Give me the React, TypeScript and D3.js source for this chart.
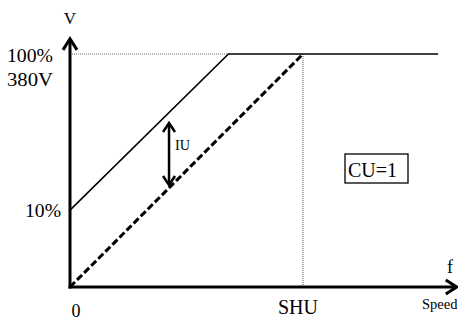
import React from "react";
import * as d3 from "d3";

// Relative frequency (SHU = 1) and voltage (% of 380V, drawn as in the diagram)
const solidF = [0, 0.68, 1.58];
const solidV = [33, 100, 100];
const dashedF = [0, 1];
const dashedV = [0, 100];
const topRefF = [0, 0.68];
const shuF = 1;
const iuF = 0.425;
const iuV = [70.4, 43.8];
const axisMaxF = 1.66;
const axisMaxV = 106.5;
const yTickLabels = [
  { v: 100, text: "100%", dy: 8 },
  { v: 100, text: "380V", dy: 32 },
  { v: 33, text: "10%", dy: 7 },
];

const W = 458;
const H = 320;
const font = "Liberation Serif";

export default function App() {
  const x = d3.scaleLinear().domain([0, 1]).range([70, 303]);
  const y = d3.scaleLinear().domain([0, 100]).range([287, 54]);
  const line = d3
    .line<[number, number]>()
    .x((d) => x(d[0]))
    .y((d) => y(d[1]));

  const solid = line(solidF.map((f, i) => [f, solidV[i]]) as [number, number][]);
  const dashed = line(dashedF.map((f, i) => [f, dashedV[i]]) as [number, number][]);
  const x0 = x(0);
  const y0 = y(0);
  const xEnd = x(axisMaxF);
  const yEnd = y(axisMaxV);
  const ax = x(iuF);
  const a1 = y(iuV[0]);
  const a2 = y(iuV[1]);
  const ts = { fontFamily: font };

  return (
    <svg
      width={W}
      height={H}
      style={{ position: "absolute", left: 0, top: 0, background: "#fff", fontFamily: font }}
    >
      {/* dotted reference lines */}
      <line
        x1={x(topRefF[0])}
        x2={x(topRefF[1])}
        y1={y(100)}
        y2={y(100)}
        stroke="#777"
        strokeWidth={1.2}
        strokeDasharray="1,1"
      />
      <line
        x1={x(shuF)}
        x2={x(shuF)}
        y1={y(100)}
        y2={y0}
        stroke="#777"
        strokeWidth={1.2}
        strokeDasharray="1,1"
      />
      {/* solid V/f curve */}
      <path d={solid!} fill="none" stroke="#000" strokeWidth={1.6} />
      {/* dashed V/f curve */}
      <path
        d={dashed!}
        fill="none"
        stroke="#000"
        strokeWidth={3}
        strokeDasharray="7,3"
      />
      {/* axes */}
      <line x1={x0} x2={x0} y1={y0 + 1.5} y2={yEnd + 1} stroke="#000" strokeWidth={3} />
      <line x1={x0 - 1.5} x2={xEnd - 1} y1={y0} y2={y0} stroke="#000" strokeWidth={3} />
      <path
        d={`M${x0 - 7},${yEnd + 11} L${x0},${yEnd} L${x0 + 7},${yEnd + 11}`}
        fill="none"
        stroke="#000"
        strokeWidth={3}
      />
      <path
        d={`M${xEnd - 11},${y0 - 7} L${xEnd},${y0} L${xEnd - 11},${y0 + 7}`}
        fill="none"
        stroke="#000"
        strokeWidth={3}
      />
      {/* IU double arrow */}
      <line x1={ax} x2={ax} y1={a1 + 1} y2={a2 - 1} stroke="#000" strokeWidth={2.5} />
      <path
        d={`M${ax - 6},${a1 + 9} L${ax},${a1} L${ax + 6},${a1 + 9}`}
        fill="none"
        stroke="#000"
        strokeWidth={2.5}
      />
      <path
        d={`M${ax - 6},${a2 - 9} L${ax},${a2} L${ax + 6},${a2 - 9}`}
        fill="none"
        stroke="#000"
        strokeWidth={2.5}
      />
      <text style={ts} x={ax + 6} y={a1 + 27} fontSize={15} textLength={15} lengthAdjust="spacingAndGlyphs">
        IU
      </text>
      {/* CU box */}
      <rect x={345} y={154} width={63} height={29} fill="none" stroke="#000" strokeWidth={1.3} />
      <text style={ts} x={348} y={177} fontSize={20} textLength={49} lengthAdjust="spacingAndGlyphs">
        CU=1
      </text>
      {/* labels */}
      <text style={ts} x={x0} y={24} fontSize={17} textAnchor="middle">
        V
      </text>
      {yTickLabels.map((t) => (
        <text
          style={ts}
          key={t.text}
          x={t.text === "10%" ? 25 : 7}
          y={y(t.v) + t.dy}
          fontSize={18}
          textLength={t.text === "10%" ? 36 : 46}
          lengthAdjust="spacingAndGlyphs"
        >
          {t.text}
        </text>
      ))}
      <text style={ts} x={76} y={317} fontSize={18} textAnchor="middle">
        0
      </text>
      <text style={ts} x={x(shuF) - 5} y={314} fontSize={20} textAnchor="middle">
        SHU
      </text>
      <text style={ts} x={450} y={273} fontSize={18} textAnchor="middle">
        f
      </text>
      <text style={ts} x={422} y={309} fontSize={14.5}>
        Speed
      </text>
    </svg>
  );
}
